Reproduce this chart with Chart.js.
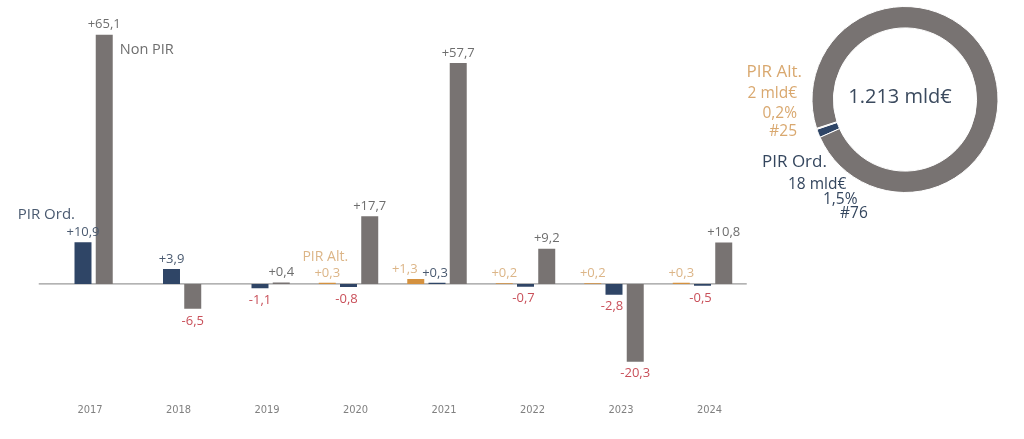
<!DOCTYPE html>
<html>
<head>
<meta charset="utf-8">
<script src="https://cdn.jsdelivr.net/npm/chart.js@4"></script>
<style>
  html, body { margin: 0; padding: 0; background: #fff; }
  #wrap { position: relative; width: 1024px; height: 439px; }
  #barChart { position: absolute; left: 0; top: 0; }
  #ringChart { position: absolute; left: 710px; top: 0; }
</style>
</head>
<body>
<div id="wrap">
  <canvas id="barChart" width="1024" height="439"></canvas>
  <canvas id="ringChart" width="314" height="230"></canvas>
</div>
<script>
// flows by year (mld€)
const years = ["2017", "2018", "2019", "2020", "2021", "2022", "2023", "2024"];
const pirAlt = [null, null, null, 0.3, 1.3, 0.2, 0.2, 0.3];
const pirOrd = [10.9, 3.9, -1.1, -0.8, 0.3, -0.7, -2.8, -0.5];
const nonPir = [65.1, -6.5, 0.4, 17.7, 57.7, 9.2, -20.3, 10.8];

// stock (mld€)
const ringLabels = ["PIR Ord.", "PIR Alt.", "Non PIR"];
const ringValues = [18, 2, 1193];

const NAVY = "#2f4566";
const TAN = "#d4913f";
const GRAY = "#787372";
const RED = "#c9505a";

const fmt = v => (v > 0 ? "+" : "") + v.toFixed(1).replace(".", ",");

// value labels above / below each bar
const valueLabels = {
  id: "valueLabels",
  afterDatasetsDraw(chart) {
    const ctx = chart.ctx;
    ctx.save();
    ctx.font = "13px 'Open Sans'";
    ctx.textAlign = "center";
    ctx.textBaseline = "middle";
    chart.data.datasets.forEach((ds, di) => {
      chart.getDatasetMeta(di).data.forEach((bar, i) => {
        const v = ds.data[i];
        if (v === null) return;
        let x = bar.x;
        if (di === 0 && pirOrd[i] > 0) x -= 11;
        if (di === 1 && pirAlt[i] > 0) x -= 2;
        if (v >= 0) {
          ctx.fillStyle = ds.labelColor;
          ctx.fillText(fmt(v), x, bar.y - 10);
        } else {
          ctx.fillStyle = RED;
          ctx.fillText(fmt(v), x, bar.y + 12);
        }
      });
    });

    // series names next to first bars
    const ord = chart.getDatasetMeta(1).data[0];
    ctx.font = "15px 'Open Sans'";
    ctx.fillStyle = "#4a5a70";
    ctx.textAlign = "right";
    ctx.fillText("PIR Ord.", ord.x - 8, ord.y - 28);
    const non = chart.getDatasetMeta(2).data[0];
    ctx.font = "14.5px 'Open Sans'";
    ctx.fillStyle = "#6e6e6e";
    ctx.textAlign = "left";
    ctx.fillText("Non PIR", non.x + non.width / 2 + 7, non.y + 15);
    const alt = chart.getDatasetMeta(0).data[3];
    ctx.font = "14px 'Open Sans'";
    ctx.fillStyle = "#dcb587";
    ctx.textAlign = "center";
    ctx.fillText("PIR Alt.", alt.x - 2, alt.y - 26);
    ctx.restore();
  }
};

// zero line
const zeroLine = {
  id: "zeroLine",
  beforeDatasetsDraw(chart) {
    const { ctx, chartArea, scales } = chart;
    const y = scales.y.getPixelForValue(0);
    ctx.save();
    ctx.strokeStyle = "#9a9a9a";
    ctx.lineWidth = 1.2;
    ctx.beginPath();
    ctx.moveTo(chartArea.left, y);
    ctx.lineTo(chartArea.right, y);
    ctx.stroke();
    ctx.restore();
  }
};

new Chart(document.getElementById("barChart"), {
  type: "bar",
  data: {
    labels: years,
    datasets: [
      { label: "PIR Alt.", data: pirAlt, backgroundColor: TAN, labelColor: "#dcb587" },
      { label: "PIR Ord.", data: pirOrd, backgroundColor: NAVY, labelColor: "#4a5a70" },
      { label: "Non PIR", data: nonPir, backgroundColor: GRAY, labelColor: "#6e6e6e" },
    ],
  },
  options: {
    responsive: false,
    animation: false,
    categoryPercentage: 0.72,
    barPercentage: 0.8,
    layout: { padding: { left: 38.75, right: 277.25, top: 16, bottom: 17 } },
    plugins: { legend: { display: false }, tooltip: { enabled: false } },
    scales: {
      x: {
        grid: { display: false, drawTicks: false },
        border: { display: false },
        ticks: {
          padding: 5,
          labelOffset: 7,
          color: "#808080",
          font: { family: "'DejaVu Sans Condensed', 'Liberation Sans', sans-serif", size: 11 },
        },
      },
      y: { display: false, min: -30, max: 70 },
    },
  },
  plugins: [zeroLine, valueLabels],
});

// ring texts
const ringText = {
  id: "ringText",
  afterDraw(chart) {
    const ctx = chart.ctx;
    const a = chart.chartArea;
    const cx = (a.left + a.right) / 2;
    const cy = (a.top + a.bottom) / 2;
    ctx.save();
    ctx.textBaseline = "middle";
    ctx.fillStyle = "#3b4a5e";
    ctx.textAlign = "center";
    ctx.font = "20px 'Open Sans'";
    ctx.fillText("1.213 mld€", cx - 5, cy - 2);

    ctx.fillStyle = "#d9a86f";
    ctx.textAlign = "right";
    ctx.font = "17px 'Open Sans'";
    ctx.fillText("PIR Alt.", cx - 103, cy - 27);
    ctx.font = "15.5px 'Open Sans'";
    ctx.fillText("2 mld€", cx - 108, cy - 6);
    ctx.fillText("0,2%", cx - 108, cy + 14);
    ctx.fillText("#25", cx - 108, cy + 32);

    ctx.fillStyle = "#34465e";
    ctx.textAlign = "left";
    ctx.font = "17px 'Open Sans'";
    ctx.fillText("PIR Ord.", cx - 143, cy + 63);
    ctx.font = "15.5px 'Open Sans'";
    ctx.fillText("18 mld€", cx - 117, cy + 85);
    ctx.fillText("1,5%", cx - 82, cy + 100);
    ctx.fillText("#76", cx - 65, cy + 114);
    ctx.restore();
  }
};

new Chart(document.getElementById("ringChart"), {
  type: "doughnut",
  data: {
    labels: ringLabels,
    datasets: [{
      data: ringValues,
      backgroundColor: [NAVY, "#e3c9a6", GRAY],
      borderColor: "#fff",
      borderWidth: 1,
    }],
  },
  options: {
    responsive: false,
    animation: false,
    rotation: 246,
    cutout: "77%",
    layout: { padding: { left: 101, right: 25, top: 6, bottom: 37 } },
    plugins: { legend: { display: false }, tooltip: { enabled: false } },
  },
  plugins: [ringText],
});
</script>
</body>
</html>
